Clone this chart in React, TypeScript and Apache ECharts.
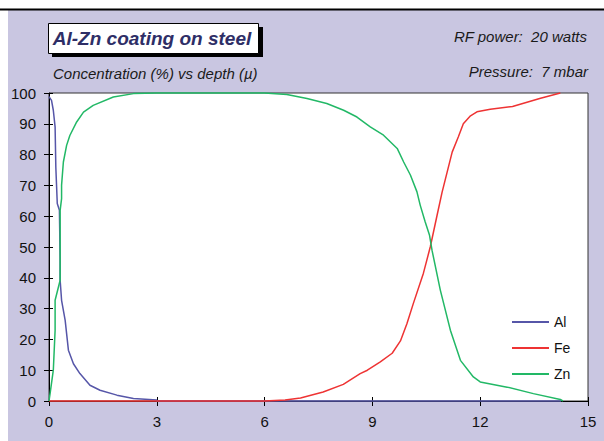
import React, { useEffect, useRef } from "react";
import * as echarts from "echarts";

const xTicks = [0, 3, 6, 9, 12, 15];
const yTicks = [0, 10, 20, 30, 40, 50, 60, 70, 80, 90, 100];

const alDepth = [0, 0.07, 0.12, 0.17, 0.19, 0.23, 0.29, 0.31, 0.31, 0.35, 0.45, 0.54, 0.68, 0.86, 1.14, 1.42, 1.89, 2.35, 3.0, 3.0, 14.25];
const alConc = [98.8, 97.6, 94.4, 88.9, 75.9, 64.1, 61.9, 45.7, 39.2, 32.7, 26.2, 16.5, 12.1, 8.9, 5.1, 3.5, 1.9, 0.8, 0.3, 0, 0];

const feDepth = [0, 6.0, 6.57, 7.0, 7.63, 8.19, 8.66, 8.86, 9.22, 9.55, 9.78, 9.96, 10.14, 10.42, 10.61, 10.8, 10.94, 11.08, 11.22, 11.39, 11.53, 11.73, 11.91, 12.28, 12.9, 13.68, 14.23];
const feConc = [0, 0, 0.3, 1, 2.9, 5.4, 8.9, 10, 12.7, 15.5, 19.5, 25.1, 31.7, 41.5, 50, 60.3, 67.8, 74.3, 80.8, 85.7, 90, 92.6, 93.9, 94.7, 95.6, 98.3, 100];

const znDepth = [0, 0.03, 0.12, 0.17, 0.17, 0.31, 0.31, 0.31, 0.35, 0.35, 0.4, 0.49, 0.58, 0.77, 0.96, 1.23, 1.79, 2.35, 3.0, 6.0, 6.62, 7.18, 7.73, 8.2, 8.57, 8.94, 9.31, 9.69, 9.87, 10.06, 10.24, 10.33, 10.47, 10.59, 10.66, 10.89, 11.17, 11.45, 11.81, 12.0, 12.75, 13.48, 14.23, 14.3];
const znConc = [0, 2.4, 10, 23, 32.7, 39.2, 53.2, 61.9, 65.7, 70.1, 77.6, 83, 86.2, 90.6, 93.8, 96, 98.7, 99.8, 100, 100, 99.5, 98.2, 96.6, 94.4, 92.2, 89, 86.3, 82, 77.6, 73.3, 67.9, 63.6, 58.1, 53.8, 48.9, 36, 23, 13.2, 7.8, 6.2, 4.5, 2.4, 0.5, 0];

const seriesNames = ["Al", "Fe", "Zn"];
const seriesColors = ["#5656a8", "#ee3333", "#22b866"];

const titleText = "Al-Zn coating on steel";
const subtitleText = "Concentration (%) vs depth (\u00b5)";
const rfText = "RF power:  20 watts";
const pressureText = "Pressure:  7 mbar";

const pairs = (xs: number[], ys: number[]) => xs.map((x, i) => [x, ys[i]]);

export default function App() {
  const ref = useRef<HTMLDivElement>(null);
  useEffect(() => {
    if (!ref.current) return;
    const chart = echarts.init(ref.current, undefined, { renderer: "svg" });
    const font = "Liberation Sans, Arial, sans-serif";
    const axisCommon = {
      axisLine: { show: true, lineStyle: { color: "#000", width: 1 } },
      splitLine: { show: false },
    };
    const datasets = [pairs(alDepth, alConc), pairs(feDepth, feConc), pairs(znDepth, znConc)];
    chart.setOption({
      animation: false,
      backgroundColor: "#c9c6e1",
      textStyle: { fontFamily: font },
      grid: {
        left: 49,
        right: 16,
        top: 93,
        bottom: 40,
        show: true,
        backgroundColor: "#ffffff",
        borderColor: "#333",
        borderWidth: 1,
      },
      xAxis: [
        {
          type: "value",
          min: xTicks[0],
          max: xTicks[xTicks.length - 1],
          interval: 3,
          ...axisCommon,
          axisTick: { show: true, inside: false, length: 5, lineStyle: { color: "#000" } },
          axisLabel: { color: "#111", fontSize: 15, margin: 13, fontFamily: font },
        },
        {
          type: "value",
          position: "bottom",
          min: xTicks[0],
          max: xTicks[xTicks.length - 1],
          interval: 3,
          axisLine: { show: false },
          splitLine: { show: false },
          axisTick: { show: true, inside: true, length: 4, lineStyle: { color: "#000" } },
          axisLabel: { show: false },
        },
      ],
      yAxis: [
        {
          type: "value",
          min: yTicks[0],
          max: yTicks[yTicks.length - 1],
          interval: 10,
          ...axisCommon,
          axisTick: { show: true, inside: false, length: 5, lineStyle: { color: "#000" } },
          axisLabel: { color: "#111", fontSize: 15, margin: 13, fontFamily: font },
        },
        {
          type: "value",
          position: "left",
          min: yTicks[0],
          max: yTicks[yTicks.length - 1],
          interval: 10,
          axisLine: { show: false },
          splitLine: { show: false },
          axisTick: { show: true, inside: true, length: 4, lineStyle: { color: "#000" } },
          axisLabel: { show: false },
        },
      ],
      legend: {
        orient: "vertical",
        left: 512,
        top: 315,
        padding: 0,
        icon: "rect",
        itemWidth: 37,
        itemHeight: 2,
        itemGap: 12,
        textStyle: { fontSize: 14, color: "#111", fontFamily: font },
        data: seriesNames,
      },
      series: seriesNames.map((name, i) => ({
        name,
        type: "line",
        xAxisIndex: 0,
        yAxisIndex: 0,
        data: datasets[i],
        symbol: "none",
        showSymbol: false,
        clip: false,
        lineStyle: { color: seriesColors[i], width: 1.5 },
        itemStyle: { color: seriesColors[i] },
      })),
      graphic: [
        { type: "rect", shape: { x: 0, y: 0, width: 8, height: 441 }, style: { fill: "#fff" }, silent: true },
        { type: "rect", shape: { x: 0, y: 0, width: 604, height: 9 }, style: { fill: "#fff" }, silent: true },
        { type: "line", shape: { x1: 0, y1: 9.5, x2: 604, y2: 9.5 }, style: { stroke: "#000", lineWidth: 2 }, silent: true },
        { type: "rect", shape: { x: 52, y: 27, width: 211, height: 30 }, style: { fill: "#000" }, silent: true, z: 100 },
        { type: "rect", shape: { x: 48.5, y: 23.5, width: 210, height: 30 }, style: { fill: "#fff", stroke: "#000", lineWidth: 1 }, silent: true, z: 101 },
        {
          type: "text", x: 152, y: 38.5, z: 102, silent: true,
          style: { text: titleText, fill: "#2e2e66", font: "italic bold 19px " + font, align: "center", verticalAlign: "middle" },
        },
        {
          type: "text", x: 53, y: 73, z: 102, silent: true,
          style: { text: subtitleText, fill: "#1a1a1a", font: "italic 15px " + font, align: "left", verticalAlign: "middle" },
        },
        {
          type: "text", x: 587, y: 36, z: 102, silent: true,
          style: { text: rfText, fill: "#1a1a1a", font: "italic 15px " + font, align: "right", verticalAlign: "middle" },
        },
        {
          type: "text", x: 588, y: 71, z: 102, silent: true,
          style: { text: pressureText, fill: "#1a1a1a", font: "italic 15px " + font, align: "right", verticalAlign: "middle" },
        },
      ],
    });
    return () => chart.dispose();
  }, []);
  return <div ref={ref} style={{ position: "fixed", left: 0, top: 0, width: 604, height: 441 }} />;
}
